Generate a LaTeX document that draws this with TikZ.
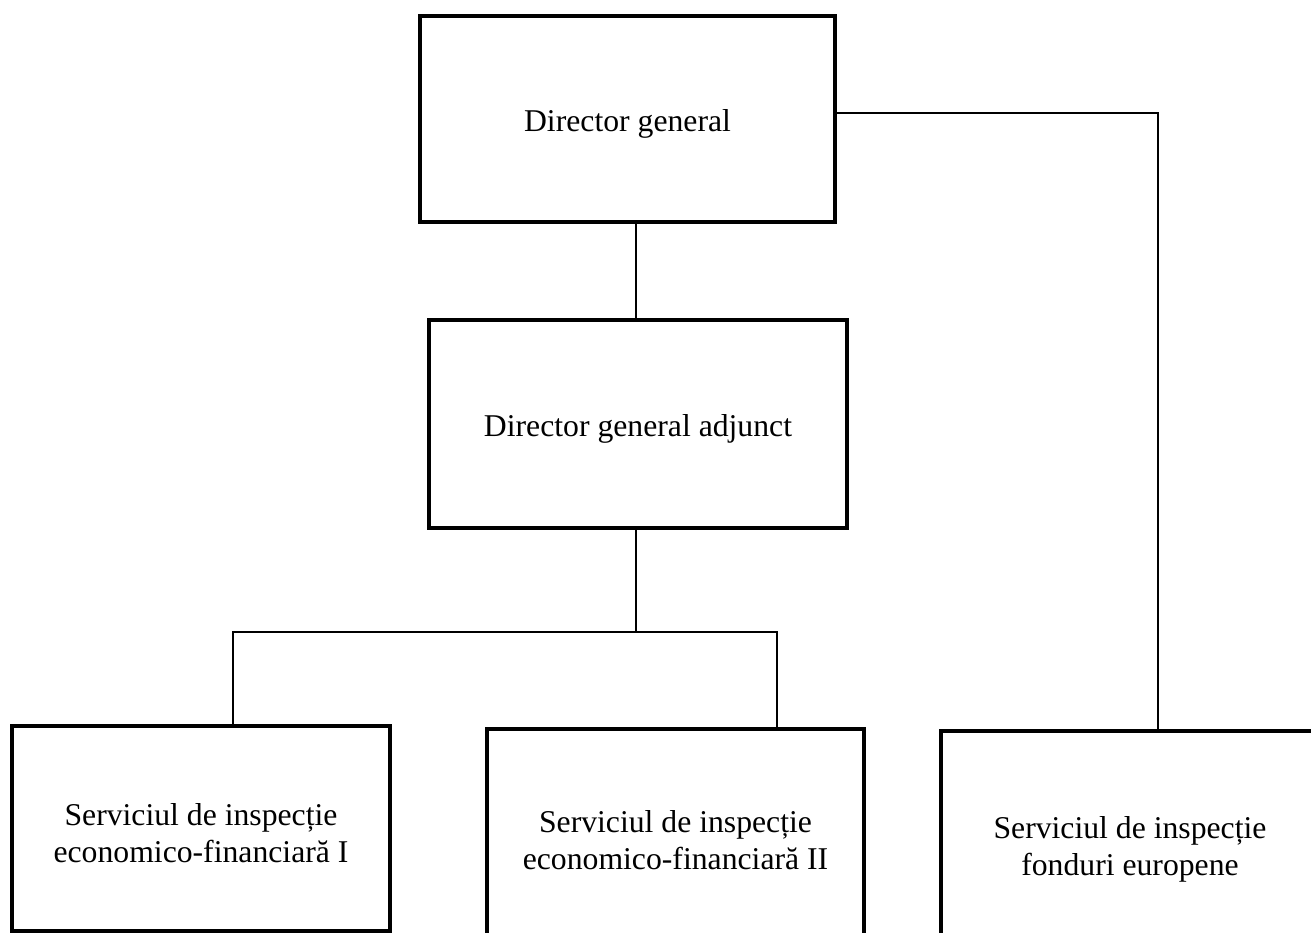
\documentclass[tikz,border=0pt]{standalone}
\usepackage{fontspec}
\setmainfont{Liberation Serif}
\begin{document}
\begin{tikzpicture}[x=1pt,y=-1pt,
  box/.style={draw, line width=3.5pt, inner sep=0pt},
  label text/.style={inner sep=0pt, align=center, font=\fontsize{31.7}{37}\selectfont},
  link/.style={draw, line width=1.8pt}]
\clip (0,0) rectangle (1311,932);
\fill[white] (0,0) rectangle (1311,932);
\node[box, minimum width=415pt, minimum height=206pt] (top) at (627.5,119) {};
\node[box, minimum width=418pt, minimum height=208pt] (mid) at (638,424) {};
\node[box, minimum width=378pt, minimum height=205pt] (s1) at (201,828.5) {};
\node[box, minimum width=377pt, minimum height=212pt] (s2) at (675.5,835) {};
\node[box, minimum width=378pt, minimum height=228pt] (s3) at (1130,845) {};
\node[label text] (ttop) at ([yshift=-5pt]top.center) {Director general};
\node[label text] (tmid) at ([yshift=-5pt]mid.center) {Director general adjunct};
\node[label text] (ts1) at ([yshift=-5pt]s1.center) {Serviciul de inspecție\\economico-financiară I};
\node[label text] (ts2) at ([yshift=-5pt]s2.center) {Serviciul de inspecție\\economico-financiară II};
\node[label text] (ts3) at ([yshift=-4pt]s3.center) {Serviciul de inspecție\\fonduri europene};
\coordinate (bus) at (636,632);
\draw[link] ([xshift=-2pt]mid.north) -- ([xshift=-2pt]mid.north |- top.south);
\draw[link] ([xshift=-2pt]mid.south) -- ([xshift=-2pt]mid.south |- bus);
\draw[link] ([xshift=32pt]s1.north) |- (bus) -| ([xshift=101.5pt]s2.north);
\draw[link] ([yshift=6pt]top.east) -| ([xshift=28pt]s3.north);
\end{tikzpicture}
\end{document}
